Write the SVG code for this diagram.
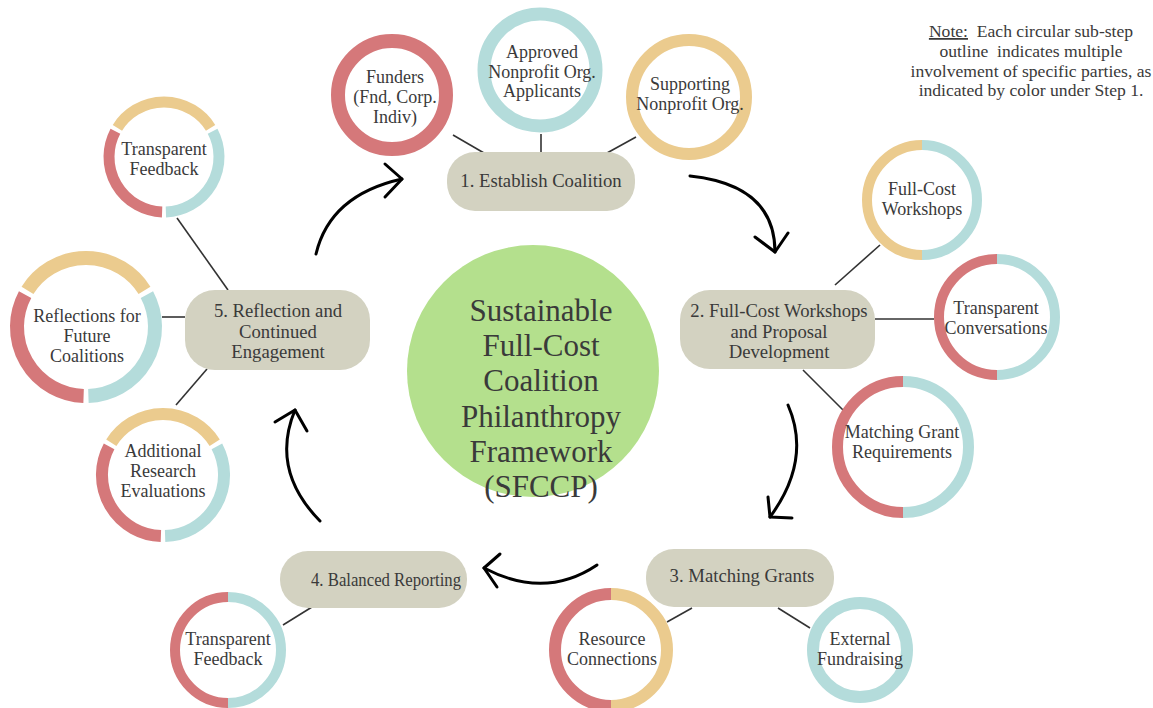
<svg xmlns="http://www.w3.org/2000/svg" width="1153" height="708" viewBox="0 0 1153 708">
<style>
text{font-family:"Liberation Serif","Times New Roman",serif;fill:#3a3a3a;text-anchor:middle}
.lbl{font-size:18px}
.nt{font-size:17.6px}
.box{fill:#D3D2C1}
.bt{font-size:18.7px}
.ct{font-size:31px}
.r{fill:none;stroke:#D5787A}
.t{fill:none;stroke:#B4DCDB}
.y{fill:none;stroke:#EBCB8E}
.con{stroke:#333;stroke-width:1.6;fill:none}
.arr{stroke:#000;stroke-width:3;fill:none;stroke-linecap:round;stroke-linejoin:round}
</style>
<rect width="1153" height="708" fill="#fff"/>

<g id="connectors">
<line class="con" x1="453" y1="135" x2="484" y2="153"/>
<line class="con" x1="541" y1="134" x2="541" y2="153"/>
<line class="con" x1="636" y1="137" x2="607" y2="153"/>
<line class="con" x1="880" y1="245" x2="835" y2="285"/>
<line class="con" x1="875" y1="319" x2="934" y2="319"/>
<line class="con" x1="803" y1="370" x2="843" y2="410"/>
<line class="con" x1="692" y1="608" x2="667" y2="622"/>
<line class="con" x1="778" y1="608" x2="810" y2="628"/>
<line class="con" x1="283" y1="625" x2="312" y2="607"/>
<line class="con" x1="177" y1="218" x2="228" y2="290"/>
<line class="con" x1="162" y1="317" x2="185" y2="317"/>
<line class="con" x1="207" y1="369" x2="176" y2="405"/>
<path class="arr" d="M316,254 Q330,195 402,179"/>
<path class="arr" d="M385,164 L402,179 L385,197"/>
<path class="arr" d="M690,176 Q775,185 775,252"/>
<path class="arr" d="M755,237 L775,252 L788,233"/>
<path class="arr" d="M788,405 Q812,460 770,517"/>
<path class="arr" d="M768,497 L770,517 L792,518"/>
<path class="arr" d="M597,565 Q545,600 484,568"/>
<path class="arr" d="M500,554 L484,568 L497,587"/>
<path class="arr" d="M320,521 Q270,470 295,410"/>
<path class="arr" d="M275,422 L295,410 L307,431"/>
</g>

<g id="center">
<circle cx="533" cy="371" r="126" fill="#B4E08D"/>
<text class="ct" x="541" y="321">Sustainable</text>
<text class="ct" x="541" y="356">Full-Cost</text>
<text class="ct" x="541" y="391">Coalition</text>
<text class="ct" x="541" y="427">Philanthropy</text>
<text class="ct" x="541" y="462">Framework</text>
<text class="ct" x="541" y="497">(SFCCP)</text>
</g>

<g id="note">
<text class="nt" x="1031" y="37" xml:space="preserve"><tspan text-decoration="underline">Note:</tspan>  Each circular sub-step</text>
<text class="nt" x="1031" y="57" xml:space="preserve">outline  indicates multiple</text>
<text class="nt" x="1031" y="77">involvement of specific parties, as</text>
<text class="nt" x="1031" y="96">indicated by color under Step 1.</text>
</g>

<g id="step1">
<rect class="box" x="447" y="152" width="188" height="59" rx="28"/>
<text class="bt" x="541" y="187">1. Establish Coalition</text>
</g>
<g id="funders">
<circle class="r" cx="392" cy="95" r="54" stroke-width="14"/>
<text class="lbl" x="395" y="83">Funders</text>
<text class="lbl" x="395" y="103">(Fnd, Corp.</text>
<text class="lbl" x="395" y="123">Indiv)</text>
</g>
<g id="approved">
<circle class="t" cx="540" cy="70" r="56" stroke-width="13"/>
<text class="lbl" x="542" y="58">Approved</text>
<text class="lbl" x="542" y="78">Nonprofit Org.</text>
<text class="lbl" x="542" y="97">Applicants</text>
</g>
<g id="supporting">
<circle class="y" cx="689" cy="97" r="57" stroke-width="12"/>
<text class="lbl" x="690" y="90">Supporting</text>
<text class="lbl" x="690" y="110">Nonprofit Org.</text>
</g>

<g id="step2">
<rect class="box" x="680" y="290" width="195" height="79" rx="30"/>
<text class="bt" x="779" y="317">2. Full-Cost Workshops</text>
<text class="bt" x="779" y="338">and Proposal</text>
<text class="bt" x="779" y="358">Development</text>
</g>
<g id="fullcost">
<path class="y" stroke-width="10" d="M922,145 A55,55 0 0 0 922,255"/>
<path class="t" stroke-width="10" d="M922,145 A55,55 0 0 1 922,255"/>
<text class="lbl" x="922" y="195">Full-Cost</text>
<text class="lbl" x="922" y="215">Workshops</text>
</g>
<g id="transconv">
<path class="r" stroke-width="10" d="M997,259 A58,58 0 0 0 997,375"/>
<path class="t" stroke-width="10" d="M997,259 A58,58 0 0 1 997,375"/>
<text class="lbl" x="996" y="314">Transparent</text>
<text class="lbl" x="996" y="334">Conversations</text>
</g>
<g id="matchreq">
<path class="r" stroke-width="11" d="M903,381.5 A65.5,65.5 0 0 0 903,512.5"/>
<path class="t" stroke-width="11" d="M903,381.5 A65.5,65.5 0 0 1 903,512.5"/>
<text class="lbl" x="902" y="438">Matching Grant</text>
<text class="lbl" x="902" y="458">Requirements</text>
</g>

<g id="step3">
<rect class="box" x="646" y="549" width="188" height="58" rx="28"/>
<text class="bt" x="742" y="582">3. Matching Grants</text>
</g>
<g id="resource">
<path class="r" stroke-width="12" d="M611,594 A56,56 0 0 0 611,706"/>
<path class="y" stroke-width="12" d="M611,594 A56,56 0 0 1 611,706"/>
<text class="lbl" x="612" y="645">Resource</text>
<text class="lbl" x="612" y="665">Connections</text>
</g>
<g id="external">
<circle class="t" cx="860" cy="650" r="47" stroke-width="12"/>
<text class="lbl" x="860" y="645">External</text>
<text class="lbl" x="860" y="665">Fundraising</text>
</g>

<g id="step4">
<rect class="box" x="280" y="551" width="187" height="57" rx="28"/>
<text class="bt" x="386" y="586" textLength="150" lengthAdjust="spacingAndGlyphs">4. Balanced Reporting</text>
</g>
<g id="feedback4">
<path class="r" stroke-width="10" d="M228,597 A53,53 0 0 0 228,703"/>
<path class="t" stroke-width="10" d="M228,597 A53,53 0 0 1 228,703"/>
<text class="lbl" x="228" y="645">Transparent</text>
<text class="lbl" x="228" y="665">Feedback</text>
</g>

<g id="step5">
<rect class="box" x="185" y="290" width="185" height="80" rx="30"/>
<text class="bt" x="278" y="317">5. Reflection and</text>
<text class="bt" x="278" y="338">Continued</text>
<text class="bt" x="278" y="358">Engagement</text>
</g>
<g id="feedback5">
<path class="y" stroke-width="11" d="M117.4,127.8 A55,55 0 0 1 210.6,127.8"/>
<path class="t" stroke-width="11" d="M212.6,131.2 A55,55 0 0 1 165.9,211.9"/>
<path class="r" stroke-width="11" d="M162.1,211.9 A55,55 0 0 1 115.4,131.2"/>
<text class="lbl" x="164" y="155">Transparent</text>
<text class="lbl" x="164" y="175">Feedback</text>
</g>
<g id="reflections">
<path class="y" stroke-width="14" d="M27.5,290.4 A69,69 0 0 1 144.5,290.4"/>
<path class="t" stroke-width="14" d="M146.9,294.6 A69,69 0 0 1 88.4,396"/>
<path class="r" stroke-width="14" d="M83.6,396 A69,69 0 0 1 25.1,294.6"/>
<text class="lbl" x="87" y="322">Reflections for</text>
<text class="lbl" x="87" y="342">Future</text>
<text class="lbl" x="87" y="362">Coalitions</text>
</g>
<g id="additional">
<path class="y" stroke-width="12" d="M111.3,442.7 A61,61 0 0 1 214.7,442.7"/>
<path class="t" stroke-width="12" d="M216.9,446.4 A61,61 0 0 1 165.1,536"/>
<path class="r" stroke-width="12" d="M160.9,536 A61,61 0 0 1 109.1,446.4"/>
<text class="lbl" x="163" y="457">Additional</text>
<text class="lbl" x="163" y="477">Research</text>
<text class="lbl" x="163" y="497">Evaluations</text>
</g>
</svg>
